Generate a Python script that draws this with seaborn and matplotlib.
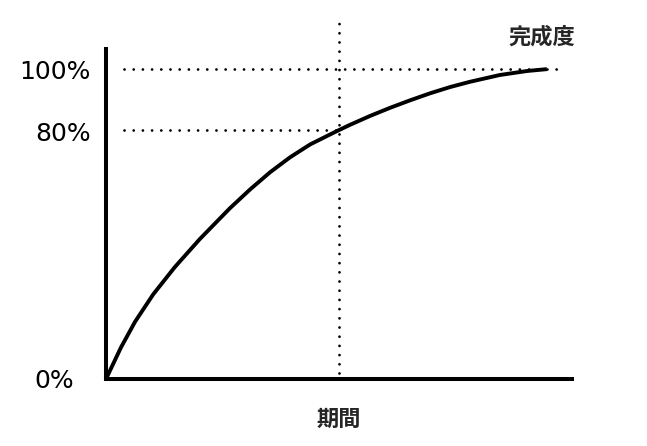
import numpy as np
import pandas as pd
import matplotlib
matplotlib.use("Agg")
import matplotlib.pyplot as plt
import matplotlib.transforms as mtransforms
import seaborn as sns

# curve (period in arbitrary units, completion in %)
period = [0.00, 0.34, 0.66, 1.07, 1.56, 2.13, 2.81, 3.27, 3.72, 4.17,
          4.63, 5.08, 5.28, 5.53, 5.99, 6.44, 6.89, 7.35, 7.80, 8.25,
          8.93, 9.55, 10.0]
completion = [0.0, 10.2, 18.5, 27.3, 36.1, 45.2, 55.1, 61.2, 66.7, 71.5,
              75.7, 78.9, 80.3, 82.0, 84.9, 87.5, 89.9, 92.2, 94.2, 95.9,
              98.1, 99.4, 100.0]

y_ticks = [0, 80, 100]
y_tick_labels = ["0%", "80%", "100%"]
x_label = "期間"
y_label = "完成度"
mark_x = 5.28  # period where 80% is reached

df = pd.DataFrame({"period": period, "completion": completion})

sns.set_theme(style="white")
plt.rcParams["font.family"] = ["DejaVu Sans", "Noto Sans CJK JP"]

fig = plt.figure(figsize=(6.47, 4.46), dpi=100)
ax = fig.add_axes([106 / 647, 1 - 379 / 446, 466 / 647, 330 / 446])

sns.lineplot(data=df, x="period", y="completion", color="black",
             linewidth=2.8, ax=ax, solid_capstyle="butt")

dots = dict(color="black", lw=2.0, ls=(0, (0.01, 3.3)), dash_capstyle="round")
ax.plot([0.41, 10.25], [100, 100], **dots)
ax.plot([0.41, mark_x], [80.3, 80.3], **dots)
ax.plot([mark_x, mark_x], [1.9, 115.5], clip_on=False, **dots)

ax.set_xlim(0, 10.57)
ax.set_ylim(0, 106.5)

for side in ["top", "right"]:
    ax.spines[side].set_visible(False)
for side in ["left", "bottom"]:
    ax.spines[side].set_linewidth(2.9)
    ax.spines[side].set_color("black")

ax.set_xticks([])
ax.set_yticks(y_ticks)
ax.set_yticklabels(y_tick_labels, fontsize=18, color="black")
ax.tick_params(axis="y", length=0, pad=11)
# the 0% label sits a bit further left in the original
zero_lbl = ax.get_yticklabels()[0]
zero_lbl.set_transform(zero_lbl.get_transform() +
                       mtransforms.ScaledTranslation(-0.17, 0, fig.dpi_scale_trans))
ax.set_xlabel("")
ax.set_ylabel("")

ax.text(5.28, -12.9, x_label, ha="center", va="center", fontsize=16,
        fontweight="bold", family=["Noto Sans CJK JP"], clip_on=False)
ax.text(9.89, 110.3, y_label, ha="center", va="center", fontsize=16,
        fontweight="bold", family=["Noto Sans CJK JP"], clip_on=False)

fig.savefig("out.png", dpi=100)
